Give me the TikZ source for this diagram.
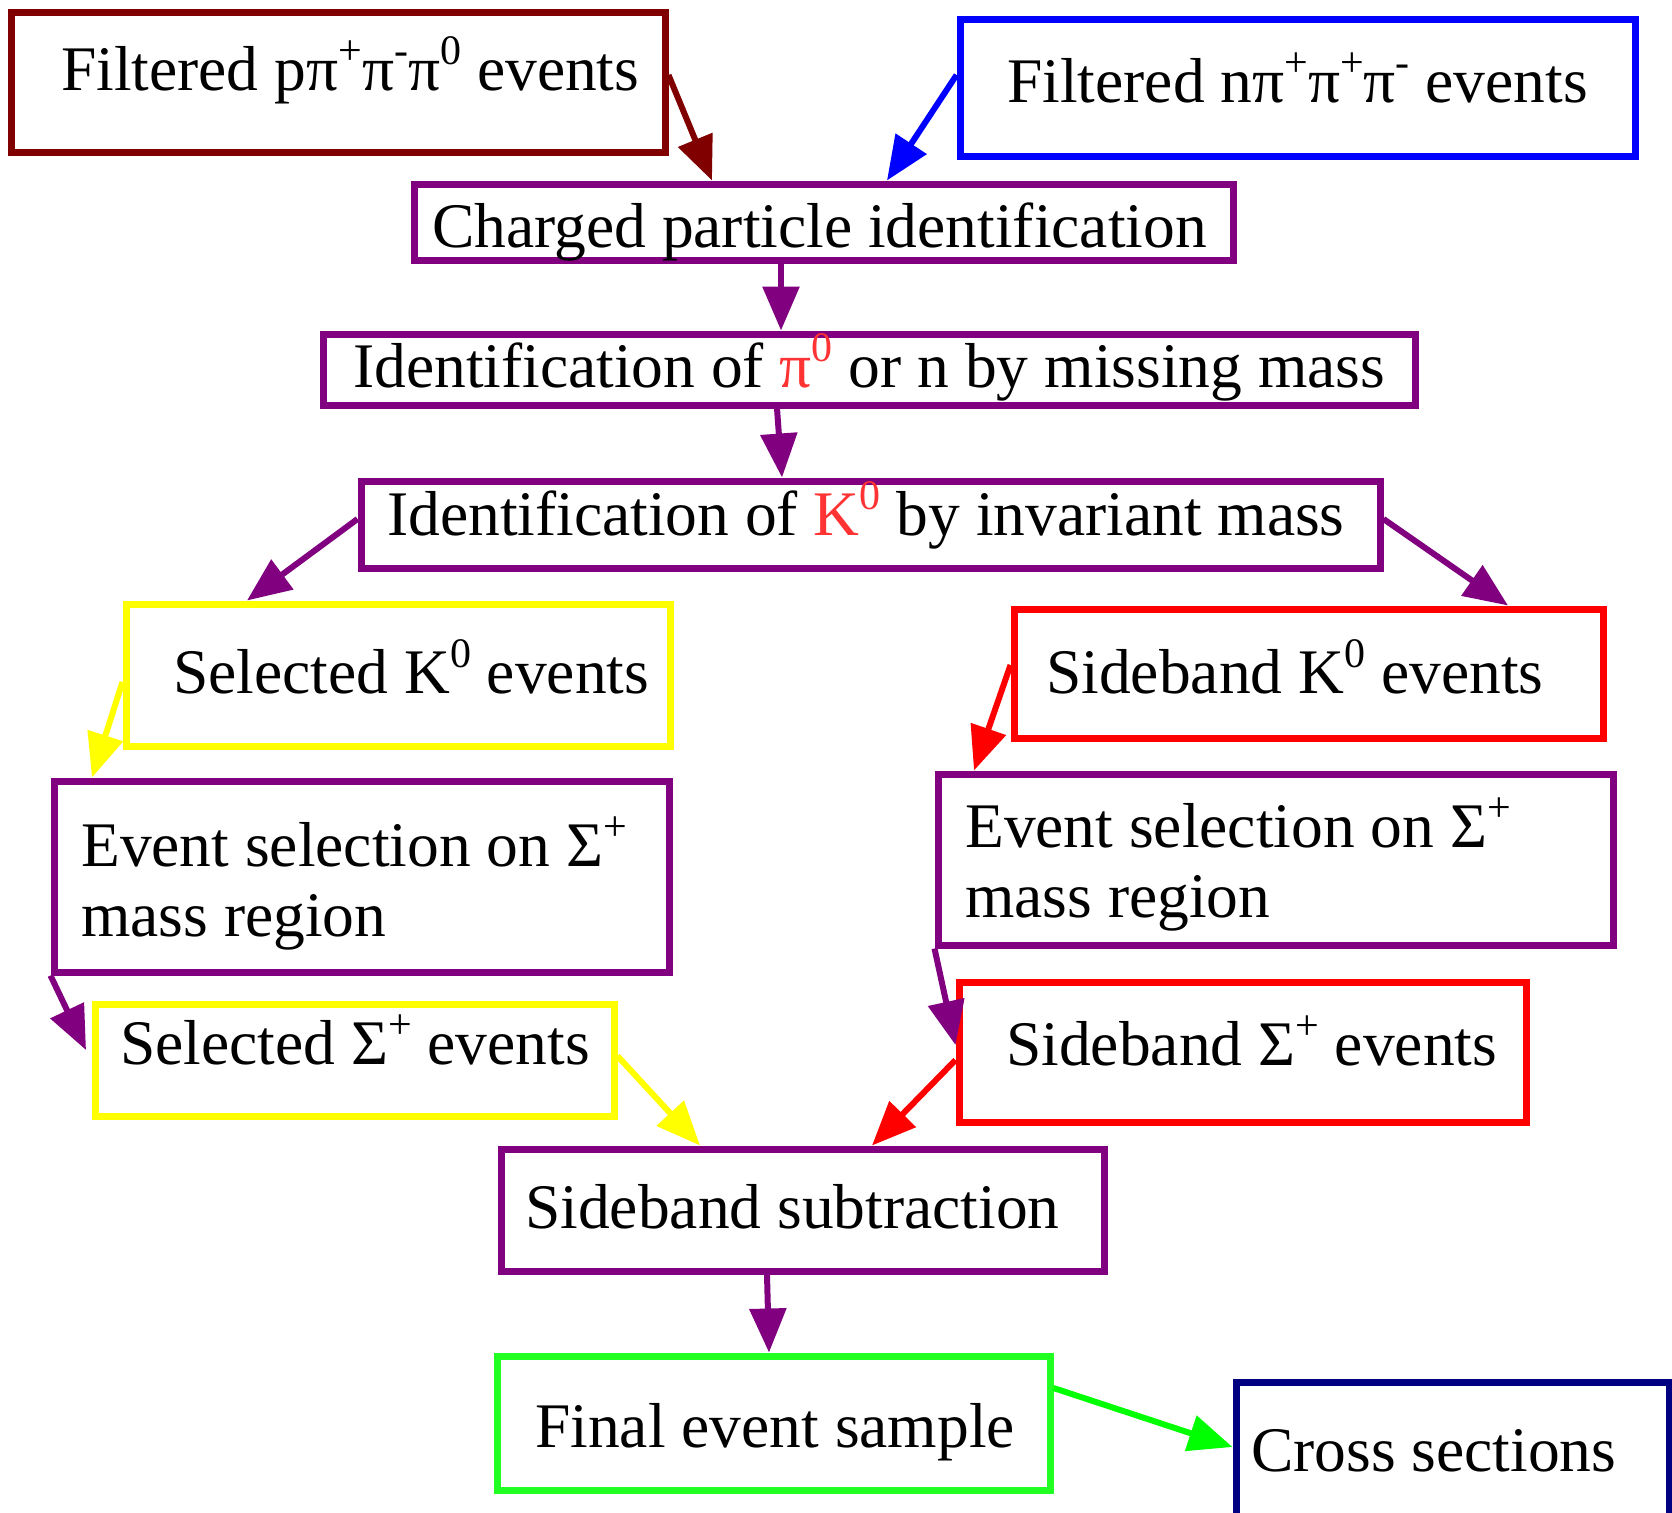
\documentclass[tikz,border=0pt]{standalone}
\usepackage{fontspec}
\setmainfont{Liberation Serif}
\usetikzlibrary{arrows.meta}
\definecolor{cDarkRed}{HTML}{800000}
\definecolor{cBlue}{HTML}{0000FF}
\definecolor{cPurple}{HTML}{800080}
\definecolor{cYellow}{HTML}{FFFF00}
\definecolor{cRed}{HTML}{FF0000}
\definecolor{cGreen}{HTML}{22FF22}
\definecolor{cArrowGreen}{HTML}{00FF00}
\definecolor{cNavy}{HTML}{000080}
\definecolor{cRedText}{HTML}{FF3333}
\newcommand\supx[1]{\raisebox{0.40em}{\fontsize{42}{42}\selectfont #1}}
\begin{document}
\begin{tikzpicture}[x=1pt,y=-1pt,
  box/.style={draw=#1, line width=7pt, rectangle, inner sep=0pt},
  lbl/.style={anchor=base west, inner sep=0pt, font=\fontsize{63.5}{70}\selectfont},
  conn/.style={draw=#1, line width=6pt, -{Triangle[length=44pt,width=36pt]}}]
\clip (0,0) rectangle (1672,1512);
\fill[white] (0,0) rectangle (1672,1512);
% boxes
\node[box=cDarkRed, minimum width=654pt, minimum height=139pt] (A) at (338,82.5) {};
\node[box=cBlue,    minimum width=675pt, minimum height=136pt] (B) at (1297.5,88) {};
\node[box=cPurple,  minimum width=819pt, minimum height=76pt]  (C) at (823.5,222) {};
\node[box=cPurple,  minimum width=1092pt,minimum height=71pt]  (D) at (869,369.5) {};
\node[box=cPurple,  minimum width=1019pt,minimum height=87pt]  (E) at (870.5,524.5) {};
\node[box=cYellow,  minimum width=544pt, minimum height=142pt] (F) at (398,675) {};
\node[box=cRed,     minimum width=589pt, minimum height=129pt] (G) at (1308.5,673.5) {};
\node[box=cPurple,  minimum width=615pt, minimum height=191pt] (H) at (361.5,876.5) {};
\node[box=cPurple,  minimum width=675pt, minimum height=171pt] (I) at (1275.5,859.5) {};
\node[box=cYellow,  minimum width=519pt, minimum height=112pt] (J) at (354.5,1060) {};
\node[box=cRed,     minimum width=567pt, minimum height=140pt] (K) at (1242.5,1052) {};
\node[box=cPurple,  minimum width=603pt, minimum height=122pt] (L) at (802.5,1210) {};
\node[box=cGreen,   minimum width=553pt, minimum height=134pt] (M) at (773.5,1423) {};
\node[box=cNavy,    minimum width=433pt, minimum height=146pt] (N) at (1452.5,1455) {};
% texts
\node[lbl] (tA) at (61,90) {Filtered pπ\supx{+}π\supx{-}π\supx{0} events};
\node[lbl] (tB) at (1007,102) {Filtered nπ\supx{+}π\supx{+}π\supx{-} events};
\node[lbl] (tC) at (432,247) {Charged particle identification};
\node[lbl] (tD) at (353,387) {Identification of {\color{cRedText}π\supx{0}} or n by missing mass};
\node[lbl] (tE) at (387,535) {Identification of {\color{cRedText}K\supx{0}} by invariant mass};
\node[lbl] (tF) at (173,693) {Selected K\supx{0} events};
\node[lbl] (tG) at (1046,693) {Sideband K\supx{0} events};
\node[lbl, align=left] (tH) at (81,936) {Event selection on Σ\supx{+}\\mass region};
\node[lbl, align=left] (tI) at (965,917) {Event selection on Σ\supx{+}\\mass region};
\node[lbl] (tJ) at (120,1064) {Selected Σ\supx{+} events};
\node[lbl] (tK) at (1006,1065) {Sideband Σ\supx{+} events};
\node[lbl] (tL) at (525,1228) {Sideband subtraction};
\node[lbl] (tM) at (535,1447) {Final event sample};
\node[lbl] (tN) at (1251,1471) {Cross sections};
% connectors
\draw[conn=cDarkRed] (A.east |- 0,75) -- (712,0 |- C.north);
\draw[conn=cBlue] (B.west |- 0,75) -- (887,0 |- C.north);
\draw[conn=cPurple] (781,0 |- C.south) -- (781,0 |- D.north);
\draw[conn=cPurple] (777,0 |- D.south) -- (782,0 |- E.north);
\draw[conn=cPurple] (E.west |- 0,519) -- (247,0 |- F.north);
\draw[conn=cPurple] (E.east |- 0,519) -- (1508,0 |- G.north);
\draw[conn=cYellow] (F.west |- 0,682) -- (92,0 |- H.north);
\draw[conn=cRed] (G.west |- 0,665) -- (974,0 |- I.north);
\draw[conn=cPurple] (H.south west) -- (86,0 |- 0,1050);
\draw[conn=cPurple] (I.south west) -- (K.west |- 0,1045);
\draw[conn=cYellow] (J.east |- 0,1056) -- (700,0 |- L.north);
\draw[conn=cRed] (K.west |- 0,1060) -- (872,0 |- L.north);
\draw[conn=cPurple] (767,0 |- L.south) -- (769,0 |- M.north);
\draw[conn=cArrowGreen] (M.east |- 0,1388) -- (N.west |- 0,1447);
\end{tikzpicture}
\end{document}
